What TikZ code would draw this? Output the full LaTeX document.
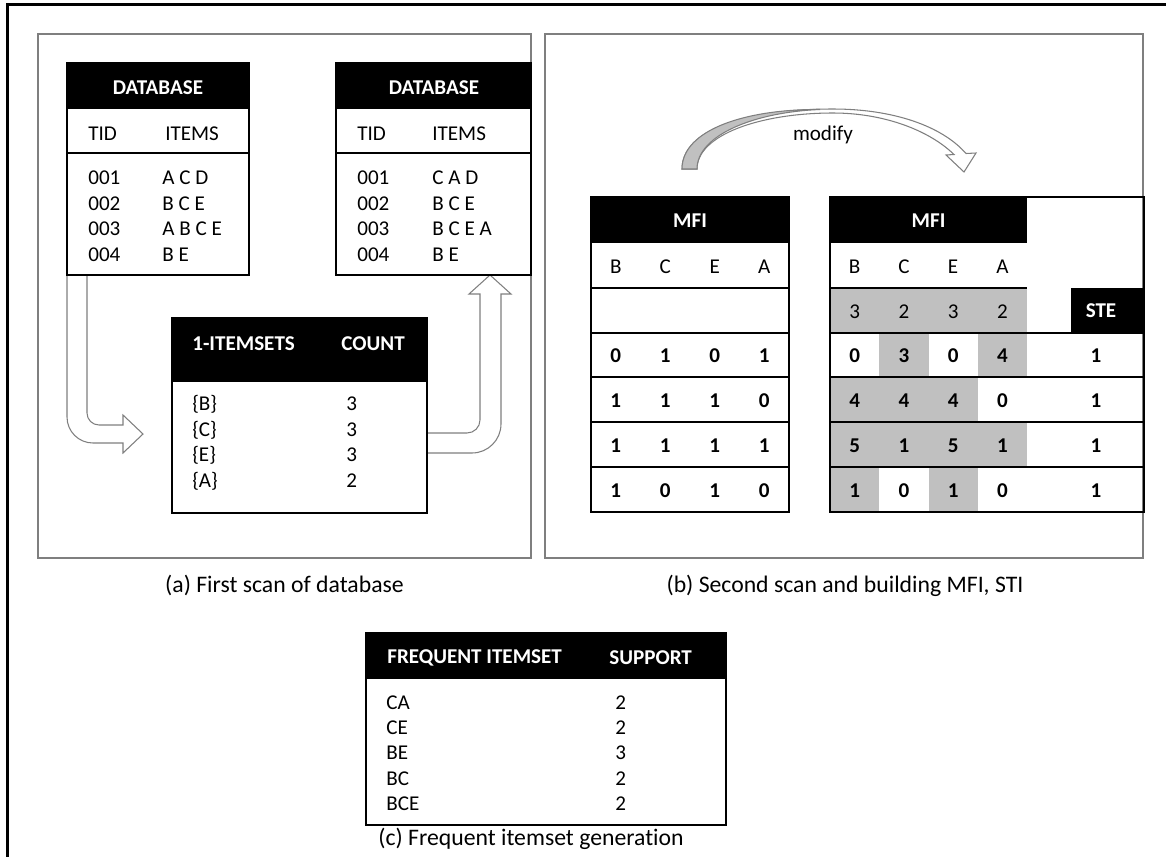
\documentclass[tikz,border=0pt]{standalone}
\usepackage{fontspec}
\setmainfont[Ligatures=NoCommon]{Carlito}
\definecolor{cellgray}{HTML}{C0C0C0}
\definecolor{framegray}{HTML}{7F7F7F}
\tikzset{
  tb/.style={draw=black, line width=1.1pt},
  txt/.style={font=\fontsize{12}{14}\selectfont, inner sep=0pt},
  txtbold/.style={font=\bfseries\fontsize{12}{14}\selectfont, inner sep=0pt},
  thead/.style={font=\bfseries\fontsize{12}{14}\selectfont, text=white, inner sep=0pt},
  captxt/.style={font=\fontsize{13.5}{16}\selectfont, inner sep=0pt, anchor=base},
  panelframe/.style={draw=framegray, line width=1.1pt},
  blockarrow/.style={draw=framegray, line width=0.6pt, fill=white},
}
\begin{document}
\begin{tikzpicture}[x=0.02cm,y=-0.02cm]
\useasboundingbox (0,0) rectangle (1166,856);
\clip (0,0) rectangle (1166,856);
% outer frame and panels
\draw[line width=1.7pt] (7.5,4.3) rectangle (1185,875);
\draw[panelframe] (38,34) rectangle (531,558);
\draw[panelframe] (545,34) rectangle (1143,558);

% ---------- block arrows of panel (a)
\coordinate (a1s) at (67,275);
\draw[blockarrow] (a1s) -- (67,417) .. controls (67,431.4) and (78.6,443) .. (93,443)
  -- (123,443) -- (123,453) -- (143,434) -- (123,415) -- (123,425) -- (99,425)
  .. controls (92.4,425) and (87,419.6) .. (87,413) -- (87,275);
\coordinate (a2s) at (427,433);
\draw[blockarrow] (a2s) -- (467,433) .. controls (474.2,433) and (480,427.2) .. (480,420)
  -- (480,294) -- (469,294) -- (490,275) -- (511,294) -- (501,294) -- (501,424)
  .. controls (501,440) and (488,453) .. (472,453) -- (427,453);

% ---------- DATABASE 1
\fill (67,63) rectangle (249,109);
\draw[tb] (67,63) rectangle (249,275);
\draw[tb] (67,153) -- (249,153);
\node[thead] (db1h) at (158,88) {DATABASE};
\node[txt, anchor=west] (db1tid) at (88,134) {TID};
\node[txt, anchor=west] (db1it) at (165,134) {ITEMS};
\foreach \id/\it/\yy [count=\i] in {001/A C D/178, 002/B C E/203.5, 003/A B C E/229, 004/B E/254.5}{
  \node[txt, anchor=west] (db1id\i) at (88,\yy) {\id};
  \node[txt, anchor=west] (db1v\i) at (162,\yy) {\it};
}

% ---------- DATABASE 2
\fill (336,63) rectangle (531,109);
\draw[tb] (336,63) rectangle (531,275);
\draw[tb] (336,153) -- (531,153);
\node[thead] (db2h) at (434,88) {DATABASE};
\node[txt, anchor=west] (db2tid) at (357,134) {TID};
\node[txt, anchor=west] (db2it) at (432,134) {ITEMS};
\foreach \id/\it/\yy [count=\i] in {001/C A D/178, 002/B C E/203.5, 003/B C E A/229, 004/B E/254.5}{
  \node[txt, anchor=west] (db2id\i) at (357,\yy) {\id};
  \node[txt, anchor=west] (db2v\i) at (432,\yy) {\it};
}

% ---------- 1-ITEMSETS
\fill (172,318) rectangle (427,382);
\draw[tb] (172,318) rectangle (427,513);
\node[thead, anchor=west] (ish1) at (192,344) {1-ITEMSETS};
\node[thead, anchor=west] (ish2) at (341,344) {COUNT};
\foreach \s/\c/\yy [count=\i] in {B/3/410.7, C/3/436.2, E/3/461.7, A/2/487.2}{
  \node[txt, anchor=base west] (isv\i) at (192,\yy) {\{\s\}};
  \node[txt, anchor=base west] (isc\i) at (346,\yy) {\c};
}
\node[captxt] (capa) at (284.5,592) {(a) First scan of database};

% ---------- modify arrow
\draw[draw=framegray, line width=0.6pt, fill=white]
  (682,169) .. controls (682,130) and (745,109) .. (833,109)
  .. controls (893,109) and (942,126) .. (966,153.5)
  -- (976,153) -- (964,172) -- (946,155) -- (954,154.5)
  .. controls (930,131) and (885,113) .. (833,113)
  .. controls (760,113) and (697,135) .. (697,169) -- cycle;
\draw[draw=framegray, line width=0.6pt, fill=cellgray]
  (682,169) .. controls (682,130) and (745,109) .. (820,109.5)
  .. controls (755,112) and (697,135) .. (697,169) -- cycle;
\node[txt, anchor=base] (modify) at (823,140) {modify};

% ---------- MFI 1
\fill (591,197) rectangle (789,243);
\draw[tb] (591,197) rectangle (789,512);
\foreach \yy in {288,333,377,422,467} \draw[tb] (591,\yy) -- (789,\yy);
\node[thead] (m1h) at (690,221) {MFI};
\foreach \l [count=\i] in {B,C,E,A}
  \node[txt] (m1l\i) at ({591+49.5*(\i-0.5)},267) {\l};
\foreach \row/\yy [count=\r] in {{0,1,0,1}/356, {1,1,1,0}/400.5, {1,1,1,1}/445.5, {1,0,1,0}/490.5}{
  \foreach \v [count=\i] in \row
    \node[txtbold] (m1r\r c\i) at ({591+49.5*(\i-0.5)},\yy) {\v};
}

% ---------- MFI 2 with STE
\fill[cellgray] (830,288) rectangle (1027,333);
\fill[cellgray] (879.25,333) rectangle (928.5,377);
\fill[cellgray] (977.75,333) rectangle (1027,377);
\fill[cellgray] (830,377) rectangle (977.75,422);
\fill[cellgray] (830,422) rectangle (1027,467);
\fill[cellgray] (830,467) rectangle (879.25,512);
\fill[cellgray] (928.5,467) rectangle (977.75,512);
\fill (830,197) rectangle (1027,243);
\fill (1071,288) rectangle (1144,333);
\draw[tb] (830,197) rectangle (1144,512);
\draw[tb] (830,288) -- (1027,288);
\foreach \yy in {333,377,422,467} \draw[tb] (830,\yy) -- (1144,\yy);
\node[thead] (m2h) at (928.5,221) {MFI};
\node[thead] (ste) at (1101,311) {STE};
\foreach \l [count=\i] in {B,C,E,A}
  \node[txt] (m2l\i) at ({830+49.25*(\i-0.5)},267) {\l};
\foreach \v [count=\i] in {3,2,3,2}
  \node[txt] (m2s\i) at ({830+49.25*(\i-0.5)},311.5) {\v};
\foreach \row/\yy [count=\r] in {{0,3,0,4}/356, {4,4,4,0}/400.5, {5,1,5,1}/445.5, {1,0,1,0}/490.5}{
  \foreach \v [count=\i] in \row
    \node[txtbold] (m2r\r c\i) at ({830+49.25*(\i-0.5)},\yy) {\v};
  \node[txtbold] (ster\r) at (1096,\yy) {1};
}
\node[captxt] (capb) at (845,592) {(b) Second scan and building MFI, STI};

% ---------- FREQUENT ITEMSET
\fill (366,633) rectangle (726,679);
\draw[tb] (366,633) rectangle (726,825);
\node[thead, anchor=west] (fh1) at (387,658) {FREQUENT ITEMSET};
\node[thead, anchor=west] (fh2) at (609,658) {SUPPORT};
\foreach \s/\c/\yy [count=\i] in {CA/2/709, CE/2/734.4, BE/3/759.8, BC/2/785.2, BCE/2/810.6}{
  \node[txt, anchor=base west] (fv\i) at (386,\yy) {\s};
  \node[txt, anchor=base west] (fc\i) at (615,\yy) {\c};
}
\node[captxt] (capc) at (531,845) {(c) Frequent itemset generation};
\end{tikzpicture}
\end{document}
